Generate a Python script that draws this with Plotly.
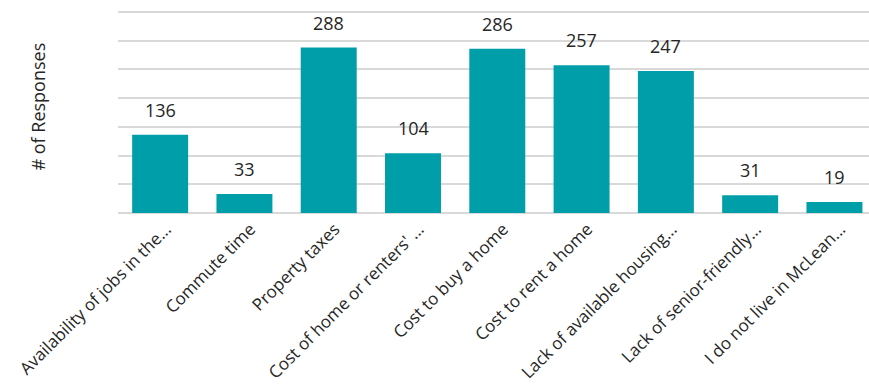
import plotly.graph_objects as go

categories = [
    "Availability of jobs in the...",
    "Commute time",
    "Property taxes",
    "Cost of home or renters' ...",
    "Cost to buy a home",
    "Cost to rent a home",
    "Lack of available housing...",
    "Lack of senior-friendly...",
    "I do not live in McLean...",
]
values = [136, 33, 288, 104, 286, 257, 247, 31, 19]

BAR = "#009EA8"
TEXT = "#262626"
FONT = "Open Sans"
FS = 18

fig = go.Figure()
fig.add_trace(go.Bar(
    x=categories, y=values,
    marker=dict(color=BAR, line=dict(width=0)),
    hoverinfo="x+y",
))

for c, v in zip(categories, values):
    fig.add_annotation(
        x=c, y=v, text=str(v), showarrow=False,
        yanchor="bottom", yshift=11,
        font=dict(family=FONT, size=FS, color=TEXT),
    )

fig.add_annotation(
    xref="paper", yref="paper", x=-0.107, y=0.52,
    xanchor="center", yanchor="middle",
    text="# of Responses", textangle=-90, showarrow=False,
    font=dict(family=FONT, size=FS, color=TEXT),
)

fig.update_layout(
    width=869, height=391,
    margin=dict(l=118, r=0, t=9, b=178),
    paper_bgcolor="white", plot_bgcolor="white",
    bargap=0.336,
    showlegend=False,
    font=dict(family=FONT, size=FS, color=TEXT),
    xaxis=dict(
        range=[-0.5, 8.41],
        tickangle=-45,
        tickfont=dict(family=FONT, size=17, color=TEXT),
        showgrid=False, showline=False, ticks="",
        ticklabelshift=6, ticklabelstandoff=2,
        automargin=False,
    ),
    yaxis=dict(
        range=[0, 355], dtick=50,
        showticklabels=False,
        showgrid=True, gridcolor="#D9D9D9", gridwidth=1.5,
        zeroline=True, zerolinecolor="#D9D9D9", zerolinewidth=1.5,
        automargin=False,
    ),
)

fig.write_html("out.html")
